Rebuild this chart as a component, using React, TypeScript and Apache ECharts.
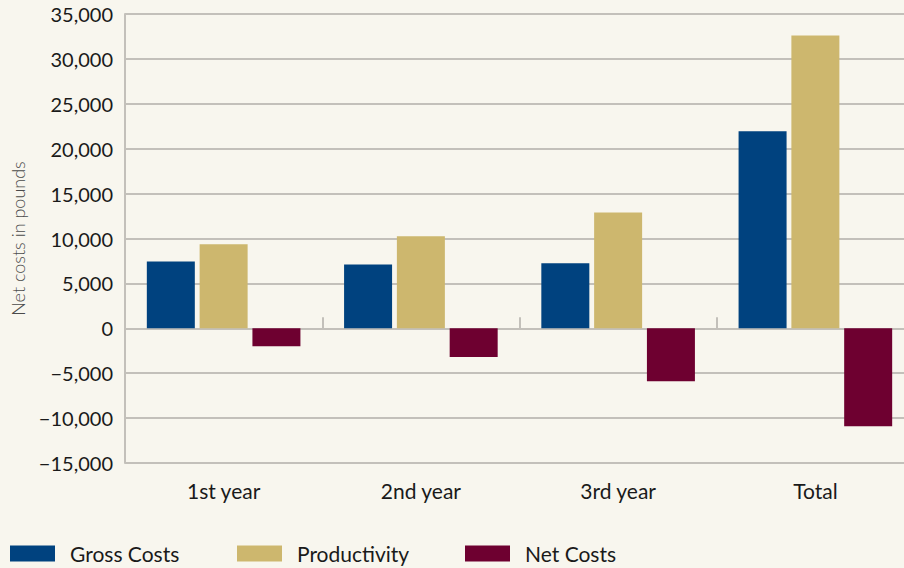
import React, { useEffect, useRef } from "react";
import * as echarts from "echarts";

const categories = ["1st year", "2nd year", "3rd year", "Total"];
const grossCosts = [7450, 7100, 7250, 21950];
const productivity = [9350, 10250, 12900, 32600];
const netCosts = [-2000, -3200, -5900, -10900];
const seriesNames = ["Gross Costs", "Productivity", "Net Costs"];
const yAxisName = "Net costs in pounds";

const COLORS = ["#00427f", "#cdb76e", "#6e0030"];
const FONT = "Lato, 'Noto Sans', sans-serif";

function fmt(v: number): string {
  const s = Math.abs(v).toLocaleString("en-GB");
  return v < 0 ? "\u2212" + s : s;
}

export default function App() {
  const ref = useRef<HTMLDivElement>(null);
  useEffect(() => {
    if (!ref.current) return;
    const chart = echarts.init(ref.current, undefined, { renderer: "svg" });
    const gridColor = "#c3c0ba";
    const legendLefts = [10, 237, 465];
    chart.setOption({
      animation: false,
      backgroundColor: "#f8f6ee",
      textStyle: { fontFamily: FONT },
      legend: seriesNames.map((n, i) => ({
        data: [n],
        left: legendLefts[i],
        top: 543,
        padding: 0,
        itemWidth: 45,
        itemHeight: 16,
        icon: "rect",
        textStyle: {
          fontFamily: FONT,
          fontSize: 21,
          color: "#1a1a1a",
          padding: [0, 0, 0, 10],
        },
      })),
      grid: { left: 125, top: 14, width: 789, height: 449, outerBoundsMode: "none", containLabel: false },
      xAxis: [
        {
          type: "category",
          data: categories,
          axisLine: { show: true, onZero: true, lineStyle: { color: gridColor, width: 2 } },
          axisTick: { show: true, inside: true, length: 11, lineStyle: { color: gridColor, width: 2 } },
          axisLabel: { show: false },
        },
        {
          type: "category",
          data: categories,
          position: "bottom",
          axisLine: { show: false, onZero: false },
          axisTick: { show: false },
          axisLabel: { margin: 17, fontSize: 21, color: "#1a1a1a", fontFamily: FONT },
        },
      ],
      yAxis: {
        type: "value",
        min: -15000,
        max: 35000,
        interval: 5000,
        name: yAxisName,
        nameLocation: "middle",
        nameRotate: 90,
        nameGap: 98,
        nameTextStyle: { fontSize: 18, fontWeight: 300, color: "#4a4a4a", fontFamily: FONT },
        axisLine: { show: true, lineStyle: { color: gridColor, width: 2 } },
        axisTick: { show: false },
        axisLabel: { margin: 12, fontSize: 20, color: "#1a1a1a", fontFamily: FONT, formatter: fmt },
        splitLine: { show: true, lineStyle: { color: gridColor, width: 2 } },
      },
      series: [
        { name: seriesNames[0], type: "bar", xAxisIndex: 0, data: grossCosts, barWidth: 48, barGap: "10%", itemStyle: { color: COLORS[0] } },
        { name: seriesNames[1], type: "bar", xAxisIndex: 0, data: productivity, barWidth: 48, barGap: "10%", itemStyle: { color: COLORS[1] } },
        { name: seriesNames[2], type: "bar", xAxisIndex: 0, data: netCosts, barWidth: 48, barGap: "10%", itemStyle: { color: COLORS[2] } },
      ],
    });
    return () => chart.dispose();
  }, []);
  return (
    <div
      ref={ref}
      style={{ position: "absolute", left: 0, top: 0, width: 904, height: 568 }}
    />
  );
}
